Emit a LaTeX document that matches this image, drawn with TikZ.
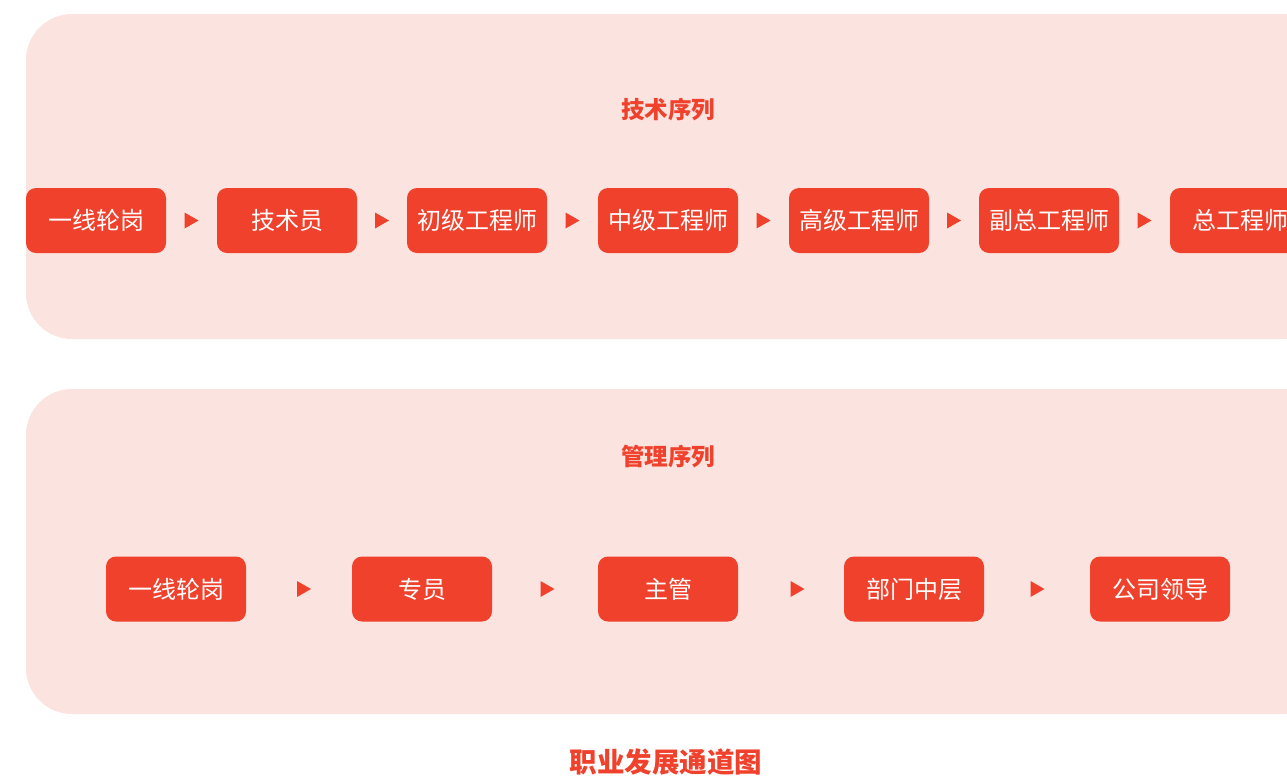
\documentclass[tikz,border=0pt]{standalone}
\usepackage{fontspec}
\setmainfont{Noto Sans CJK SC}
\usetikzlibrary{calc}
\definecolor{boxred}{HTML}{EF412C}
\definecolor{panelbg}{HTML}{FBE4DF}
\begin{document}
\begin{tikzpicture}[x=1pt,y=-1pt,
  stage/.style={fill=boxred, rounded corners=10pt, minimum width=140pt, minimum height=65pt,
    text=white, font=\fontsize{24}{24}\selectfont, inner sep=0pt},
  seqlabel/.style={text=boxred, font=\fontsize{23.5}{23.5}\selectfont\bfseries},
  tri/.style={fill=boxred},
  panel/.style={fill=panelbg, rounded corners=46pt}]
\useasboundingbox (0,0) rectangle (1287,777);
\clip (0,0) rectangle (1287,777);
\fill[panel] (26,14) rectangle (1330,339);
\fill[panel] (26,389) rectangle (1330,714);
\node[seqlabel] (tl) at (668,110) {技术序列};
\node[seqlabel] (ml) at (668,457) {管理序列};
\node[stage] (t1) at (96,220.5) {一线轮岗};
\node[stage] (t2) at (287,220.5) {技术员};
\node[stage] (t3) at (477,220.5) {初级工程师};
\node[stage] (t4) at (668,220.5) {中级工程师};
\node[stage] (t5) at (859,220.5) {高级工程师};
\node[stage] (t6) at (1049,220.5) {副总工程师};
\node[stage] (t7) at (1240,220.5) {总工程师};
\node[stage] (m1) at (176,589) {一线轮岗};
\node[stage] (m2) at (422,589) {专员};
\node[stage] (m3) at (668,589) {主管};
\node[stage] (m4) at (914,589) {部门中层};
\node[stage] (m5) at (1160,589) {公司领导};
\foreach \a/\b/\s in {t1/t2/0,t2/t3/0,t3/t4/0,t4/t5/0,t5/t6/0,t6/t7/0,m1/m2/5,m2/m3/2.5,m3/m4/6.5,m4/m5/0.5}{
  \coordinate (mid) at ($(\a.east)!0.5!(\b.west)+(\s,0)$);
  \fill[tri] ($(mid)+(-7,-8)$) -- ($(mid)+(7,0)$) -- ($(mid)+(-7,8)$) -- cycle;
}
\node[text=boxred, font=\fontsize{27.5}{27.5}\selectfont\bfseries] (title) at (666,762) {职业发展通道图};
\end{tikzpicture}
\end{document}
